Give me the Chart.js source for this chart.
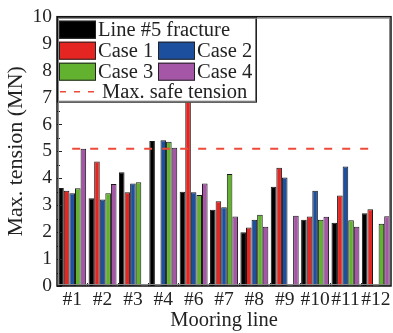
<!DOCTYPE html>
<html>
<head>
<meta charset="utf-8">
<script src="https://cdn.jsdelivr.net/npm/chart.js@4.4.1/dist/chart.umd.min.js"></script>
<style>
  html, body { margin: 0; padding: 0; background: #fff; }
  #wrap { width: 393px; height: 333px; }
</style>
</head>
<body>
<div id="wrap"><canvas id="chart" width="393" height="333"></canvas></div>
<script>
// mooring lines and max tension (MN) per case
const lines = ['#1', '#2', '#3', '#4', '#6', '#7', '#8', '#9', '#10', '#11', '#12'];
const fracture = [3.64, 3.26, 4.22, 5.38, 3.50, 2.83, 2.00, 3.69, 2.46, 2.35, 2.70];
const case1 = [3.54, 4.62, 3.48, null, 7.20, 3.15, 2.17, 4.39, 2.58, 3.36, 2.85];
const case2 = [3.44, 3.21, 3.81, 5.41, 3.48, 2.92, 2.46, 4.03, 3.54, 4.44, null];
const case3 = [3.63, 3.44, 3.85, 5.36, 3.38, 4.16, 2.65, null, 2.46, 2.44, 2.31];
const case4 = [5.10, 3.79, null, 5.13, 3.81, 2.58, 2.20, 2.61, 2.57, 2.20, 2.59];
const safeTension = 5.1;
const yTicks = [0, 1, 2, 3, 4, 5, 6, 7, 8, 9, 10];

const FONT = '"Liberation Serif", "Times New Roman", serif';
const colors = {
  fracture: '#000000',
  case1: '#e52521',
  case2: '#1d4f9f',
  case3: '#62b22f',
  case4: '#a656a6',
  safe: '#ee4a3a'
};

function barSet(label, data, color) {
  return {
    type: 'bar',
    label: label,
    data: data,
    backgroundColor: color,
    borderColor: '#1a1a1a',
    borderWidth: 1,
    categoryPercentage: 0.92,
    barPercentage: 1.0,
    order: 2
  };
}

// frame, inward ticks and the boxed legend inside the plot
const decorations = {
  id: 'decorations',
  afterDatasetsDraw(chart) {
    const ctx = chart.ctx;
    const a = chart.chartArea;
    const y = chart.scales.y;
    const x = chart.scales.x;
    ctx.save();

    // inward ticks on the left axis
    ctx.strokeStyle = '#222';
    ctx.lineWidth = 1;
    for (let v = 0; v <= 10; v += 0.5) {
      const py = Math.round(y.getPixelForValue(v)) + 0.5;
      const len = Number.isInteger(v) ? 5 : 3;
      ctx.beginPath();
      ctx.moveTo(a.left, py);
      ctx.lineTo(a.left + len, py);
      ctx.stroke();
    }
    // small ticks between groups on the bottom axis
    for (let i = 0; i < lines.length - 1; i++) {
      const px = Math.round((x.getPixelForValue(i) + x.getPixelForValue(i + 1)) / 2) + 0.5;
      ctx.beginPath();
      ctx.moveTo(px, a.bottom);
      ctx.lineTo(px, a.bottom - 3);
      ctx.stroke();
    }

    // legend box
    const lx = a.left, ly = a.top, lw = 200, lh = 86;
    ctx.fillStyle = '#fff';
    ctx.fillRect(lx, ly, lw, lh);
    ctx.strokeStyle = '#777';
    ctx.lineWidth = 1;
    ctx.strokeRect(lx + 1.5, ly + 1.5, lw - 3, lh - 3);
    ctx.strokeStyle = '#222';
    ctx.strokeRect(lx + 0.5, ly + 0.5, lw - 1, lh - 1);

    ctx.font = '20.5px ' + FONT;
    ctx.textBaseline = 'middle';
    ctx.textAlign = 'left';
    const sw = 37, sh = 18;
    const rows = [
      [[lx + 2, ly + 13, colors.fracture, 'Line #5 fracture']],
      [[lx + 2, ly + 34, colors.case1, 'Case 1'], [lx + 101, ly + 34, colors.case2, 'Case 2']],
      [[lx + 2, ly + 55, colors.case3, 'Case 3'], [lx + 101, ly + 55, colors.case4, 'Case 4']]
    ];
    rows.forEach(row => row.forEach(([sx, cy, col, txt]) => {
      ctx.fillStyle = col;
      ctx.fillRect(sx, cy - sh / 2, sw, sh);
      ctx.strokeStyle = '#222';
      ctx.strokeRect(sx + 0.5, cy - sh / 2 + 0.5, sw - 1, sh - 1);
      ctx.fillStyle = '#222';
      ctx.fillText(txt, sx + sw + 2, cy + 1);
    }));
    // dashed line entry
    const dy = ly + 75;
    ctx.strokeStyle = colors.safe;
    ctx.lineWidth = 1.5;
    ctx.setLineDash([6, 8]);
    ctx.beginPath();
    ctx.moveTo(lx + 3, dy);
    ctx.lineTo(lx + 40, dy);
    ctx.stroke();
    ctx.setLineDash([]);
    ctx.fillStyle = '#222';
    ctx.fillText('Max. safe tension', lx + 45, dy + 1);

    // plot frame
    ctx.strokeStyle = '#888';
    ctx.lineWidth = 1;
    ctx.strokeRect(a.left + 1.5, a.top + 1.5, a.right - a.left - 3, a.bottom - a.top - 3);
    ctx.strokeStyle = '#111';
    ctx.lineWidth = 1.5;
    ctx.strokeRect(a.left, a.top, a.right - a.left, a.bottom - a.top);
    ctx.restore();
  }
};

new Chart(document.getElementById('chart').getContext('2d'), {
  data: {
    labels: lines,
    datasets: [
      barSet('Line #5 fracture', fracture, colors.fracture),
      barSet('Case 1', case1, colors.case1),
      barSet('Case 2', case2, colors.case2),
      barSet('Case 3', case3, colors.case3),
      barSet('Case 4', case4, colors.case4),
      {
        type: 'line',
        label: 'Max. safe tension',
        data: lines.map(() => safeTension),
        borderColor: colors.safe,
        borderWidth: 2,
        borderDash: [8, 10],
        pointRadius: 0,
        fill: false,
        order: 1
      }
    ]
  },
  options: {
    responsive: false,
    animation: false,
    layout: { padding: { top: 14, right: 2, left: 0, bottom: 0 } },
    plugins: {
      legend: { display: false },
      tooltip: { enabled: false }
    },
    scales: {
      x: {
        grid: { display: false, drawTicks: false },
        border: { display: false },
        ticks: { color: '#222', font: { family: FONT, size: 19.5 }, padding: 2, maxRotation: 0, autoSkip: false },
        title: { display: true, text: 'Mooring line', color: '#222', font: { family: FONT, size: 20.5 }, padding: { top: 0, bottom: 0 } },
        afterFit(scale) { scale.height = 47; }
      },
      y: {
        min: 0,
        max: 10,
        afterBuildTicks(scale) { scale.ticks = yTicks.map(v => ({ value: v })); },
        grid: { display: false, drawTicks: false },
        border: { display: false },
        ticks: { color: '#222', font: { family: FONT, size: 19.5 }, padding: 5, autoSkip: false },
        title: { display: true, text: 'Max. tension (MN)', color: '#222', font: { family: FONT, size: 22 }, padding: { top: 3, bottom: 0 } },
        afterFit(scale) { scale.width = 57; }
      }
    }
  },
  plugins: [decorations]
});
</script>
</body>
</html>
